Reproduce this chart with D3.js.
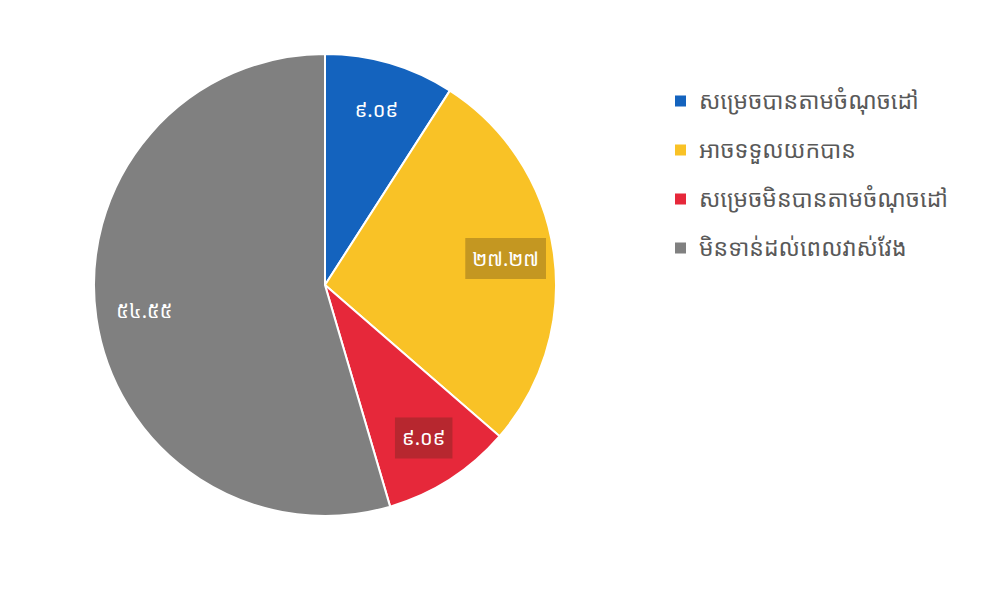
<!DOCTYPE html>
<html>
<head>
<meta charset="utf-8">
<script src="https://cdn.jsdelivr.net/npm/d3@7"></script>
<style>
  html, body { margin: 0; padding: 0; background: #ffffff; }
  svg { display: block; }
  text { font-family: "Khmer OS", "Noto Sans Khmer", "Noto Sans", "DejaVu Sans", sans-serif; }
</style>
</head>
<body>
<svg id="chart" width="1000" height="607"></svg>
<script>
const categories = ["សម្រេចបានតាមចំណុចដៅ", "អាចទទួលយកបាន", "សម្រេចមិនបានតាមចំណុចដៅ", "មិនទាន់ដល់ពេលវាស់វែង"];
const values = [9.09, 27.27, 9.09, 54.55];
const valueLabels = ["៩.០៩", "២៧.២៧", "៩.០៩", "៥៤.៥៥"];
const colors = ["#1463be", "#f9c226", "#e6283a", "#808080"];
const labelBoxed = [false, true, true, false];

const svg = d3.select("#chart");
const cx = 325, cy = 285, R = 231;

const pie = d3.pie().sort(null).value(d => d.value);
const data = categories.map((c, i) => ({ name: c, value: values[i], label: valueLabels[i], color: colors[i], boxed: labelBoxed[i] }));
const arcs = pie(data);

const arc = d3.arc().innerRadius(0).outerRadius(R);
const labelArc = d3.arc().innerRadius(R * 0.79).outerRadius(R * 0.79);

const g = svg.append("g").attr("transform", `translate(${cx},${cy})`);

g.selectAll("path.slice").data(arcs).enter().append("path")
  .attr("class", "slice")
  .attr("d", arc)
  .attr("fill", d => d.data.color)
  .attr("stroke", "#ffffff")
  .attr("stroke-width", 2);

const lg = g.selectAll("g.lbl").data(arcs).enter().append("g")
  .attr("class", "lbl")
  .attr("transform", d => `translate(${labelArc.centroid(d)})`);

lg.each(function(d) {
  const sel = d3.select(this);
  const t = sel.append("text")
    .attr("text-anchor", "middle")
    .attr("dy", "0.35em")
    .attr("fill", "#ffffff")
    .attr("font-size", 20)
    .text(d.data.label);
  if (d.data.boxed) {
    const bb = t.node().getBBox();
    sel.insert("rect", "text")
      .attr("x", bb.x - 7).attr("y", bb.y - 7)
      .attr("width", bb.width + 14).attr("height", bb.height + 14)
      .attr("fill", "rgba(60,40,20,0.28)");
  }
});

// legend
const legendY = d3.scaleBand().domain(categories).range([76, 272]);
const leg = svg.append("g").selectAll("g").data(data).enter().append("g")
  .attr("transform", d => `translate(675,${legendY(d.name) + legendY.bandwidth() / 2})`);
leg.append("rect").attr("x", 0).attr("y", -5).attr("width", 11).attr("height", 11).attr("fill", d => d.color);
leg.append("text").attr("x", 24).attr("dy", "0.35em").attr("font-size", 23).attr("fill", "#595959").text(d => d.name);
</script>
</body>
</html>
